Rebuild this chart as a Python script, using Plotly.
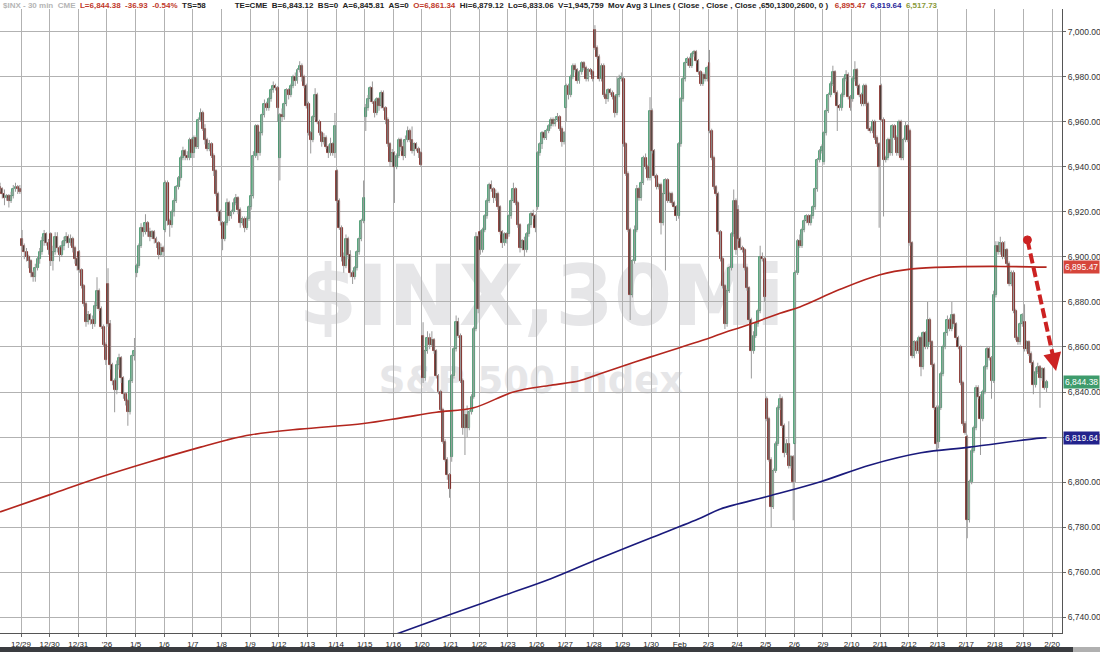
import plotly.graph_objects as go

# ---------------- data ----------------
TICK_LABELS = ["12/29", "12/30", "12/31", "'26", "1/5", "1/6", "1/7", "1/8", "1/9", "1/12",
               "1/13", "1/14", "1/15", "1/16", "1/20", "1/21", "1/22", "1/23", "1/26", "1/27",
               "1/28", "1/29", "1/30", "Feb", "2/3", "2/4", "2/5", "2/6", "2/9", "2/10",
               "2/11", "2/12", "2/13", "2/17", "2/18", "2/19", "2/20"]
SESSIONS = ["12/26"] + TICK_LABELS[:-1]
BARS_PER_SESSION = 13
SESSION_BAR_COUNT = [10, 13, 13, 13, 13, 13, 13, 13, 13, 13, 13, 13, 13, 13, 13, 13, 13, 13, 13,
                     13, 13, 13, 13, 13, 13, 13, 13, 13, 13, 13, 13, 13, 13, 13, 13, 13, 11]
SESSION_OPEN = [6931, 6908, 6910, 6902, 6888, 6893, 6912, 6946, 6915, 6922, 6944, 6968, 6938,
                6962, 6946, 6865, 6811, 6911, 6910, 6922, 6966, 7001, 6979, 6965, 6950, 6986,
                6921, 6837, 6817, 6942, 6970, 6976, 6956, 6818, 6820, 6883, 6871]

CLOSE = [
    6930, 6928, 6926, 6927, 6925, 6927, 6930, 6931, 6930, 6929,                 # 12/26
    6905, 6902, 6900, 6898, 6893, 6891, 6895, 6899, 6902, 6907, 6910, 6906, 6903,  # 12/29
    6898, 6902, 6909, 6904, 6901, 6905, 6907, 6909, 6906, 6908, 6904, 6899, 6896,  # 12/30
    6894, 6887, 6879, 6871, 6874, 6872, 6870, 6878, 6885, 6877, 6869, 6861, 6854,  # 12/31
    6870, 6852, 6845, 6841, 6852, 6855, 6846, 6839, 6836, 6831, 6845, 6856, 6858,  # 1/2
    6896, 6905, 6913, 6911, 6915, 6911, 6909, 6911, 6908, 6906, 6901, 6904, 6902,  # 1/5
    6933, 6916, 6914, 6920, 6925, 6931, 6935, 6944, 6947, 6945, 6944, 6952, 6946,  # 1/6
    6953, 6949, 6961, 6964, 6957, 6952, 6948, 6950, 6945, 6938, 6928, 6920, 6916,  # 1/7
    6908, 6915, 6924, 6918, 6920, 6924, 6926, 6921, 6915, 6917, 6913, 6917, 6922,  # 1/8
    6927, 6945, 6958, 6946, 6955, 6963, 6968, 6966, 6970, 6974, 6976, 6975, 6966,  # 1/9
    6963, 6962, 6968, 6974, 6972, 6976, 6980, 6978, 6983, 6985, 6980, 6976, 6967,  # 1/12
    6955, 6952, 6962, 6972, 6960, 6955, 6951, 6953, 6949, 6946, 6950, 6946, 6958,  # 1/13
    6925, 6913, 6900, 6896, 6908, 6901, 6893, 6891, 6895, 6902, 6908, 6916, 6926,  # 1/14
    6966, 6970, 6975, 6969, 6964, 6970, 6967, 6973, 6966, 6961, 6950, 6942, 6946,  # 1/15
    6940, 6945, 6952, 6949, 6945, 6952, 6956, 6952, 6947, 6950, 6948, 6946, 6941,  # 1/16
    6846, 6858, 6864, 6861, 6863, 6858, 6847, 6840, 6832, 6818, 6810, 6803, 6797,  # 1/20
    6847, 6859, 6871, 6865, 6845, 6824, 6830, 6824, 6831, 6838, 6868, 6909, 6877,  # 1/21
    6903, 6912, 6918, 6925, 6932, 6930, 6926, 6928, 6922, 6911, 6906, 6910, 6908,  # 1/22
    6918, 6925, 6930, 6924, 6914, 6904, 6907, 6903, 6910, 6914, 6919, 6918, 6913,  # 1/23
    6946, 6950, 6955, 6953, 6956, 6958, 6961, 6959, 6961, 6962, 6957, 6951, 6955,  # 1/26
    6976, 6972, 6980, 6985, 6983, 6978, 6982, 6986, 6984, 6979, 6983, 6982, 6979,  # 1/27
    6993, 6989, 6979, 6985, 6972, 6970, 6974, 6973, 6971, 6964, 6972, 6979, 6980,  # 1/28
    6950, 6937, 6912, 6883, 6898, 6912, 6930, 6926, 6933, 6944, 6940, 6935, 6965,  # 1/29
    6947, 6936, 6931, 6932, 6915, 6928, 6934, 6925, 6928, 6924, 6922, 6918, 6950,  # 1/30
    6970, 6979, 6986, 6988, 6985, 6990, 6991, 6987, 6982, 6977, 6981, 6979, 6984,  # Feb
    6956, 6944, 6931, 6928, 6911, 6899, 6887, 6870, 6885, 6895, 6910, 6925, 6903,  # 2/3
    6908, 6904, 6903, 6895, 6886, 6872, 6858, 6865, 6870, 6876, 6900, 6899, 6882,  # 2/4
    6828, 6810, 6789, 6805, 6817, 6833, 6837, 6825, 6813, 6817, 6807, 6811, 6800,  # 2/5
    6893, 6907, 6905, 6912, 6916, 6918, 6915, 6918, 6922, 6930, 6943, 6947, 6949,  # 2/6
    6955, 6965, 6972, 6977, 6982, 6973, 6967, 6966, 6972, 6979, 6981, 6971, 6966,  # 2/9
    6979, 6983, 6976, 6972, 6968, 6976, 6968, 6957, 6956, 6960, 6953, 6950, 6940,  # 2/10
    6961, 6943, 6944, 6952, 6946, 6958, 6953, 6946, 6960, 6944, 6952, 6958, 6952,  # 2/11
    6906, 6856, 6862, 6858, 6864, 6851, 6866, 6860, 6872, 6862, 6852, 6833, 6817,  # 2/12
    6833, 6848, 6860, 6866, 6872, 6868, 6874, 6870, 6864, 6860, 6844, 6826, 6822,  # 2/13
    6783, 6800, 6814, 6824, 6842, 6838, 6828, 6840, 6851, 6859, 6855, 6845, 6883,  # 2/17
    6905, 6902, 6906, 6900, 6903, 6897, 6888, 6893, 6876, 6864, 6862, 6870, 6874,  # 2/18
    6859, 6862, 6857, 6853, 6843, 6849, 6851, 6846, 6850, 6842, 6844.38,           # 2/19
]

WICK_UP = [
    2, 1, 2, 1, 1, 2, 2, 2, 1, 2,
    4, 1, 2, 1, 1, 1, 2, 1, 2, 2, 2, 1, 2,
    1, 3, 2, 2, 1, 2, 2, 2, 1, 2, 1, 1, 1,
    1, 1, 1, 1, 2, 1, 2, 2, 6, 1, 1, 1, 1,
    7, 2, 1, 1, 2, 2, 1, 1, 1, 1, 1, 1, 6,
    1, 1, 2, 1, 4, 1, 2, 1, 1, 1, 1, 2, 1,
    1, 1, 1, 1, 1, 1, 1, 1, 2, 1, 2, 1, 1,
    1, 1, 1, 2, 1, 2, 1, 2, 1, 1, 1, 1, 1,
    1, 1, 2, 1, 1, 2, 2, 1, 1, 1, 1, 1, 1,
    1, 2, 1, 1, 1, 1, 2, 1, 1, 1, 2, 1, 1,
    1, 3, 1, 1, 1, 1, 1, 2, 1, 2, 1, 1, 1,
    1, 1, 1, 3, 1, 1, 1, 2, 1, 1, 3, 1, 6,
    1, 1, 1, 2, 2, 1, 2, 1, 1, 1, 1, 1, 8,
    2, 2, 1, 3, 1, 1, 1, 1, 1, 1, 1, 1, 2,
    1, 1, 1, 1, 2, 2, 2, 1, 6, 1, 1, 1, 1,
    6, 1, 3, 2, 4, 1, 1, 1, 1, 1, 1, 1, 1,
    1, 1, 3, 2, 1, 1, 2, 4, 1, 1, 1, 2, 1,
    1, 1, 1, 1, 1, 2, 1, 2, 1, 1, 1, 1, 1,
    1, 1, 3, 1, 1, 1, 1, 2, 1, 1, 1, 2, 1,
    1, 1, 1, 1, 1, 1, 1, 1, 1, 2, 1, 1, 1,
    1, 1, 1, 1, 1, 1, 1, 1, 1, 1, 1, 1, 1,
    2, 1, 1, 1, 1, 1, 1, 1, 1, 1, 8, 2, 2,
    1, 1, 1, 1, 1, 2, 2, 1, 1, 1, 2, 1, 6,
    1, 1, 1, 1, 1, 1, 1, 1, 1, 1, 1, 1, 1,
    1, 1, 1, 1, 1, 1, 1, 1, 1, 1, 1, 1, 1,
    6, 1, 1, 1, 1, 1, 1, 1, 1, 1, 1, 5, 1,
    2, 1, 1, 1, 1, 1, 1, 2, 1, 1, 5, 2, 1,
    1, 1, 1, 1, 1, 1, 2, 1, 1, 2, 10, 1, 1,
    1, 1, 3, 1, 1, 1, 1, 1, 1, 1, 1, 1, 1,
    1, 1, 1, 1, 3, 1, 1, 1, 1, 1, 2, 1, 1,
    1, 4, 1, 1, 1, 1, 1, 1, 1, 1, 1, 1, 1,
    1, 1, 1, 1, 1, 1, 1, 1, 1, 1, 1, 2, 1,
    1, 1, 1, 1, 1, 1, 1, 1, 8, 1, 1, 1, 1,
    1, 1, 1, 1, 2, 1, 6, 1, 1, 1, 1, 1, 1,
    1, 1, 1, 1, 1, 1, 1, 1, 1, 1, 1, 1, 2,
    2, 2, 3, 1, 4, 1, 1, 1, 1, 1, 1, 1, 1,
    8, 1, 1, 1, 1, 2, 2, 1, 1, 1, 1,
]

WICK_DN = [
    1, 2, 3, 1, 3, 1, 1, 1, 2, 1,
    2, 3, 2, 3, 2, 2, 2, 1, 2, 1, 2, 1, 2,
    2, 4, 1, 2, 3, 1, 2, 1, 2, 1, 2, 2, 2,
    1, 1, 1, 2, 1, 2, 2, 1, 1, 1, 1, 1, 2,
    1, 2, 2, 10, 2, 2, 2, 2, 2, 6, 1, 1, 2,
    2, 1, 1, 2, 1, 2, 2, 1, 2, 2, 2, 1, 2,
    1, 2, 5, 1, 2, 1, 1, 1, 1, 2, 1, 1, 2,
    2, 1, 1, 1, 1, 2, 1, 1, 1, 2, 1, 2, 2,
    5, 1, 1, 2, 1, 1, 1, 2, 2, 1, 2, 1, 1,
    1, 1, 1, 3, 1, 1, 1, 1, 1, 1, 1, 1, 6,
    10, 2, 1, 1, 2, 1, 1, 2, 1, 1, 2, 1, 1,
    1, 6, 1, 1, 1, 1, 2, 1, 1, 2, 1, 1, 2,
    1, 1, 2, 3, 1, 2, 2, 3, 1, 1, 1, 1, 1,
    6, 1, 1, 1, 2, 1, 2, 1, 1, 2, 1, 2, 2,
    16, 1, 1, 2, 2, 1, 1, 1, 1, 2, 1, 2, 1,
    2, 1, 1, 2, 1, 1, 1, 1, 1, 1, 1, 2, 4,
    2, 1, 1, 1, 1, 3, 12, 4, 1, 1, 1, 1, 2,
    2, 1, 1, 1, 1, 1, 2, 1, 1, 1, 2, 1, 2,
    1, 1, 1, 1, 1, 2, 1, 3, 1, 1, 1, 1, 2,
    1, 1, 2, 1, 1, 1, 1, 1, 1, 1, 1, 2, 1,
    6, 2, 1, 1, 1, 1, 1, 1, 1, 1, 1, 1, 1,
    1, 1, 1, 1, 1, 2, 1, 1, 1, 2, 1, 1, 1,
    1, 1, 1, 11, 1, 1, 1, 1, 1, 1, 1, 1, 1,
    1, 1, 1, 1, 5, 1, 34, 1, 1, 1, 1, 2, 1,
    1, 1, 1, 1, 1, 1, 1, 1, 1, 1, 1, 1, 1,
    1, 1, 1, 1, 1, 1, 1, 2, 1, 1, 1, 1, 2,
    1, 1, 1, 1, 1, 1, 12, 1, 1, 1, 1, 1, 2,
    1, 1, 9, 1, 1, 1, 1, 1, 2, 1, 1, 1, 17,
    17, 1, 1, 1, 1, 1, 1, 1, 1, 1, 1, 1, 1,
    1, 1, 1, 1, 1, 1, 11, 1, 1, 1, 1, 1, 1,
    1, 1, 1, 1, 1, 1, 1, 1, 1, 1, 1, 1, 27,
    1, 25, 1, 1, 1, 1, 1, 1, 1, 1, 1, 1, 1,
    1, 1, 1, 1, 1, 4, 1, 1, 1, 1, 1, 1, 3,
    3, 1, 1, 1, 1, 1, 1, 1, 1, 1, 1, 1, 1,
    8, 1, 1, 1, 1, 1, 16, 1, 1, 1, 1, 8, 1,
    1, 1, 1, 1, 1, 1, 1, 1, 1, 1, 1, 1, 1,
    1, 1, 1, 1, 4, 1, 1, 13, 1, 1, 2,
]

# moving averages (bar position, value)
MA650_AT = [-10, 13, 35, 58, 81, 93, 104, 126, 155, 172, 188, 205, 223, 240, 253, 262, 285,
            312, 317, 330, 344, 353, 371, 389, 404, 423, 444, 465]
MA650 = [6786.7, 6794.5, 6802, 6809, 6815.5, 6818.7, 6821, 6823.5, 6826, 6828.5, 6831, 6833,
         6840, 6843, 6845, 6848, 6855.5, 6864, 6865.8, 6870, 6875, 6877.8, 6885.5, 6892,
         6894.7, 6895.6, 6895.8, 6895.47]
MA1300_AT = [163, 194, 217, 240, 262, 285, 308, 317, 340, 362, 385, 408, 430, 462, 465]
MA1300 = [6730, 6741, 6749, 6757, 6766, 6775, 6784, 6788, 6794, 6800, 6807.6, 6813, 6815.5,
          6819.5, 6819.64]

LAST_PRICE = 6844.38
MA650_LAST = 6895.47
MA1300_LAST = 6819.64

ARROW_START = (456.3, 6907.6)
ARROW_END = (469.3, 6849.3)

# ---------------- build bars ----------------
xs, op, hi, lo, cl = [], [], [], [], []
k = 0
for s, (n, o0) in enumerate(zip(SESSION_BAR_COUNT, SESSION_OPEN)):
    start = (s - 1) * BARS_PER_SESSION + (BARS_PER_SESSION - n if s == 0 else 0)
    prev = o0
    for j in range(n):
        c = CLOSE[k]
        xs.append(start + j)
        op.append(prev)
        cl.append(c)
        hi.append(max(prev, c) + WICK_UP[k])
        lo.append(min(prev, c) - WICK_DN[k])
        prev = c
        k += 1

wx, wy = [], []
for x, h, l in zip(xs, hi, lo):
    wx += [x, x, None]
    wy += [l, h, None]

up_x = [x for x, o, c in zip(xs, op, cl) if c >= o]
up_base = [o for o, c in zip(op, cl) if c >= o]
up_h = [max(c - o, 0.4) for o, c in zip(op, cl) if c >= o]
dn_x = [x for x, o, c in zip(xs, op, cl) if c < o]
dn_base = [c for o, c in zip(op, cl) if c < o]
dn_h = [o - c for o, c in zip(op, cl) if c < o]

fig = go.Figure()
fig.add_trace(go.Scatter(x=wx, y=wy, mode="lines", line=dict(color="#9a9a9a", width=1),
                         hoverinfo="skip", showlegend=False))
fig.add_trace(go.Bar(x=up_x, y=up_h, base=up_base, width=0.9,
                     marker=dict(color="#86bb9e", line=dict(color="#2d8a5b", width=0.8)),
                     showlegend=False))
fig.add_trace(go.Bar(x=dn_x, y=dn_h, base=dn_base, width=0.9,
                     marker=dict(color="#3b2a22", line=dict(color="#84201a", width=0.8)),
                     showlegend=False))
fig.add_trace(go.Scatter(x=MA650_AT, y=MA650, mode="lines",
                         line=dict(color="#b3261e", width=1.6, shape="spline"), showlegend=False))
fig.add_trace(go.Scatter(x=MA1300_AT, y=MA1300, mode="lines",
                         line=dict(color="#1a1a7c", width=1.6, shape="spline"), showlegend=False))

FONT = "Arial, Liberation Sans, sans-serif"
X_MIN, X_MAX = -10.03, 472.0
Y_MIN, Y_MAX = 6732.9, 7010.2

fig.update_layout(
    width=1100, height=652,
    margin=dict(l=0, r=38, t=9, b=19, pad=0),
    paper_bgcolor="white", plot_bgcolor="white",
    barmode="overlay", bargap=0,
    showlegend=False,
    xaxis=dict(range=[X_MIN, X_MAX], tickmode="array",
               tickvals=[BARS_PER_SESSION * i - 0.5 for i in range(len(TICK_LABELS))],
               ticktext=TICK_LABELS, showgrid=True, gridcolor="#b2b2b2", gridwidth=1,
               zeroline=False, showline=True, linecolor="#555555", linewidth=1,
               ticks="outside", ticklen=3, tickcolor="#666666",
               tickfont=dict(family=FONT, size=8, color="#222222"), automargin=False),
    yaxis=dict(range=[Y_MIN, Y_MAX], side="right", tick0=0, dtick=20, tickformat=",.2f",
               showgrid=True, gridcolor="#b2b2b2", gridwidth=1, zeroline=False,
               showline=True, linecolor="#555555", linewidth=1, ticks="outside", ticklen=3,
               tickcolor="#666666", tickfont=dict(family=FONT, size=8.5, color="#333333"),
               automargin=False),
)

# watermark (below the grid and the bars)
fig.add_shape(type="rect", xref="paper", yref="paper", x0=0.20, x1=0.82, y0=0.50, y1=0.60,
              layer="below", line=dict(width=0), fillcolor="rgba(0,0,0,0)",
              label=dict(text="$INX,30Mi", textposition="middle center",
                         font=dict(family="DejaVu Sans", size=84, color="#e6e6e8", weight="bold")))
fig.add_shape(type="rect", xref="paper", yref="paper", x0=0.30, x1=0.70, y0=0.37, y1=0.45,
              layer="below", line=dict(width=0), fillcolor="rgba(0,0,0,0)",
              label=dict(text="S&P 500 Index", textposition="middle center",
                         font=dict(family="DejaVu Sans", size=37, color="#e6e6e8", weight="bold")))

# red dashed arrow
fig.add_shape(type="line", xref="x", yref="y", x0=ARROW_START[0], y0=ARROW_START[1],
              x1=ARROW_END[0] - 1.0, y1=ARROW_END[1] + 5,
              line=dict(color="#cc2222", width=4, dash="10px,4px"))
fig.add_shape(type="circle", xref="x", yref="y", xsizemode="pixel", ysizemode="pixel",
              xanchor=ARROW_START[0], yanchor=ARROW_START[1], x0=-4, x1=4, y0=-4, y1=4,
              fillcolor="#cc2222", line=dict(color="#cc2222", width=1))
fig.add_annotation(x=ARROW_END[0], y=ARROW_END[1], xref="x", yref="y", ax=-3, ay=-14,
                   text="", showarrow=True, arrowhead=2, arrowsize=0.9, arrowwidth=4,
                   arrowcolor="#cc2222")

# right-side value flags
for val, bg in [(MA650_LAST, "#d6453b"), (LAST_PRICE, "#3e9b6c"), (MA1300_LAST, "#22228c")]:
    fig.add_annotation(x=1, xref="paper", xanchor="left", xshift=1, y=val, yref="y",
                       text=f"{val:,.2f}", showarrow=False, bgcolor=bg, borderpad=1,
                       font=dict(family=FONT, size=8.5, color="white"))

# header line
NB = "\u00a0"
def sp(n):
    return NB * n
header = (
    f"<span style='color:#b5b5b5'>$INX - 30 min{sp(2)}CME</span>{sp(2)}"
    f"<span style='color:#c0392b'>L=6,844.38{sp(2)}-36.93{sp(2)}-0.54%</span>{sp(2)}"
    f"<span style='color:#222'>TS=58</span>{sp(13)}"
    f"<span style='color:#222'>TE=CME{sp(2)}B=6,843.12{sp(2)}BS=0{sp(2)}A=6,845.81{sp(2)}AS=0</span>{sp(2)}"
    f"<span style='color:#c0392b'>O=6,861.34</span>{sp(2)}"
    f"<span style='color:#222'>Hi=6,879.12{sp(2)}Lo=6,833.06{sp(2)}V=1,945,759{sp(2)}"
    f"Mov Avg 3 Lines ( Close , Close , Close ,650,1300,2600, 0 )</span>{sp(3)}"
    f"<span style='color:#c0392b'>6,895.47</span>{sp(2)}"
    f"<span style='color:#2a2a9a'>6,819.64</span>{sp(2)}"
    f"<span style='color:#8a9a3a'>6,517.73</span>"
)
fig.add_annotation(x=0.002, y=1 + 9 / 624, xref="paper", yref="paper", xanchor="left",
                   yanchor="top", text=header, showarrow=False, borderpad=0,
                   font=dict(family=FONT, size=8, color="#222", weight="bold"))

# bottom strip
fig.add_shape(type="rect", xref="paper", yref="paper", x0=0, x1=1100 / 1062,
              y0=-19 / 624, y1=-14 / 624, fillcolor="#3a3c40", line=dict(width=0))
fig.add_shape(type="rect", xref="paper", yref="paper", x0=1073 / 1062, x1=1100 / 1062,
              y0=-19 / 624, y1=-14 / 624, fillcolor="#b0b0b0", line=dict(width=0))

fig.write_html("out.html", config={"displayModeBar": False},
               post_script="document.body.style.margin='0';document.body.style.overflow='hidden';")
